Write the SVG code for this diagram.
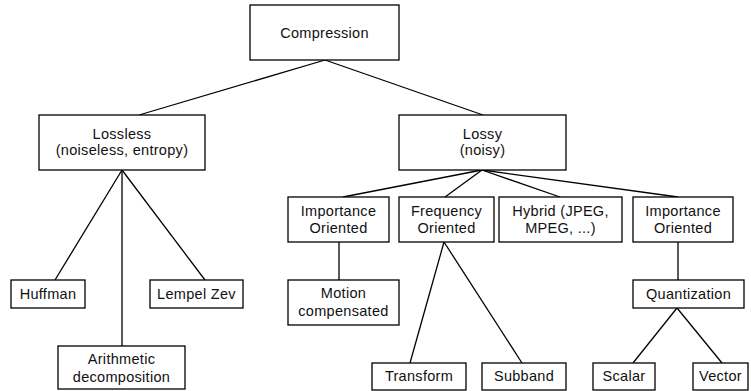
<svg xmlns="http://www.w3.org/2000/svg" width="751" height="391" viewBox="0 0 751 391">
  <style>
    .box { fill: #ffffff; stroke: #000000; stroke-width: 1.3; }
    .edge { fill: none; stroke: #000000; stroke-width: 1.3; }
    text { font-family: "Liberation Sans", Arial, Helvetica, sans-serif; font-size: 14.5px; letter-spacing: 0.3px; fill: #111111; text-anchor: middle; }
  </style>
  <rect width="751" height="391" fill="#ffffff"/>

  <!-- tree edges -->
  <g id="connectors">
    <line class="edge" x1="325" y1="60" x2="139" y2="115"/>
    <line class="edge" x1="325" y1="60" x2="483" y2="115"/>
    <line class="edge" x1="122" y1="170" x2="55" y2="280"/>
    <line class="edge" x1="122" y1="170" x2="122" y2="346"/>
    <line class="edge" x1="122" y1="170" x2="205" y2="280"/>
    <line class="edge" x1="482" y1="170" x2="343" y2="197"/>
    <line class="edge" x1="482" y1="170" x2="445" y2="197"/>
    <line class="edge" x1="482" y1="170" x2="560" y2="197"/>
    <line class="edge" x1="482" y1="170" x2="678" y2="197"/>
    <line class="edge" x1="339" y1="242" x2="339" y2="280"/>
    <line class="edge" x1="444" y1="242" x2="410" y2="363"/>
    <line class="edge" x1="444" y1="242" x2="522" y2="363"/>
    <line class="edge" x1="678" y1="242" x2="678" y2="280"/>
    <line class="edge" x1="677" y1="308" x2="633" y2="363"/>
    <line class="edge" x1="677" y1="308" x2="722" y2="363"/>
  </g>

  <g id="compression">
    <rect class="box" x="250" y="5" width="149" height="55"/>
    <text x="324.5" y="37.5">Compression</text>
  </g>

  <g id="lossless">
    <rect class="box" x="39" y="115" width="166" height="55"/>
    <text x="122" y="139">Lossless</text>
    <text x="122" y="155">(noiseless, entropy)</text>
  </g>

  <g id="lossy">
    <rect class="box" x="399" y="115" width="167" height="55"/>
    <text x="482.5" y="139">Lossy</text>
    <text x="482.5" y="155">(noisy)</text>
  </g>

  <g id="huffman">
    <rect class="box" x="11" y="280" width="74" height="28"/>
    <text x="48" y="299">Huffman</text>
  </g>

  <g id="lempel-zev">
    <rect class="box" x="150" y="280" width="93" height="28"/>
    <text x="196.5" y="299">Lempel Zev</text>
  </g>

  <g id="arithmetic">
    <rect class="box" x="58" y="346" width="127" height="43"/>
    <text x="121.5" y="364">Arithmetic</text>
    <text x="121.5" y="382">decomposition</text>
  </g>

  <g id="importance-1">
    <rect class="box" x="288" y="197" width="101" height="45"/>
    <text x="338.5" y="215.5">Importance</text>
    <text x="338.5" y="233">Oriented</text>
  </g>

  <g id="frequency">
    <rect class="box" x="399" y="197" width="95" height="45"/>
    <text x="446.5" y="215.5">Frequency</text>
    <text x="446.5" y="233">Oriented</text>
  </g>

  <g id="hybrid">
    <rect class="box" x="499" y="197" width="123" height="45"/>
    <text x="560.5" y="215.5">Hybrid (JPEG,</text>
    <text x="560.5" y="233">MPEG, ...)</text>
  </g>

  <g id="importance-2">
    <rect class="box" x="633" y="197" width="100" height="45"/>
    <text x="683" y="215.5">Importance</text>
    <text x="683" y="233">Oriented</text>
  </g>

  <g id="motion">
    <rect class="box" x="288" y="280" width="111" height="45"/>
    <text x="343.5" y="298">Motion</text>
    <text x="343.5" y="316">compensated</text>
  </g>

  <g id="quantization">
    <rect class="box" x="633" y="280" width="111" height="28"/>
    <text x="688.5" y="299">Quantization</text>
  </g>

  <g id="transform">
    <rect class="box" x="372" y="363" width="94" height="27"/>
    <text x="419" y="381">Transform</text>
  </g>

  <g id="subband">
    <rect class="box" x="482" y="363" width="84" height="27"/>
    <text x="524" y="381">Subband</text>
  </g>

  <g id="scalar">
    <rect class="box" x="593" y="363" width="62" height="27"/>
    <text x="624" y="381">Scalar</text>
  </g>

  <g id="vector">
    <rect class="box" x="693" y="363" width="55" height="27"/>
    <text x="720.5" y="381">Vector</text>
  </g>
</svg>
